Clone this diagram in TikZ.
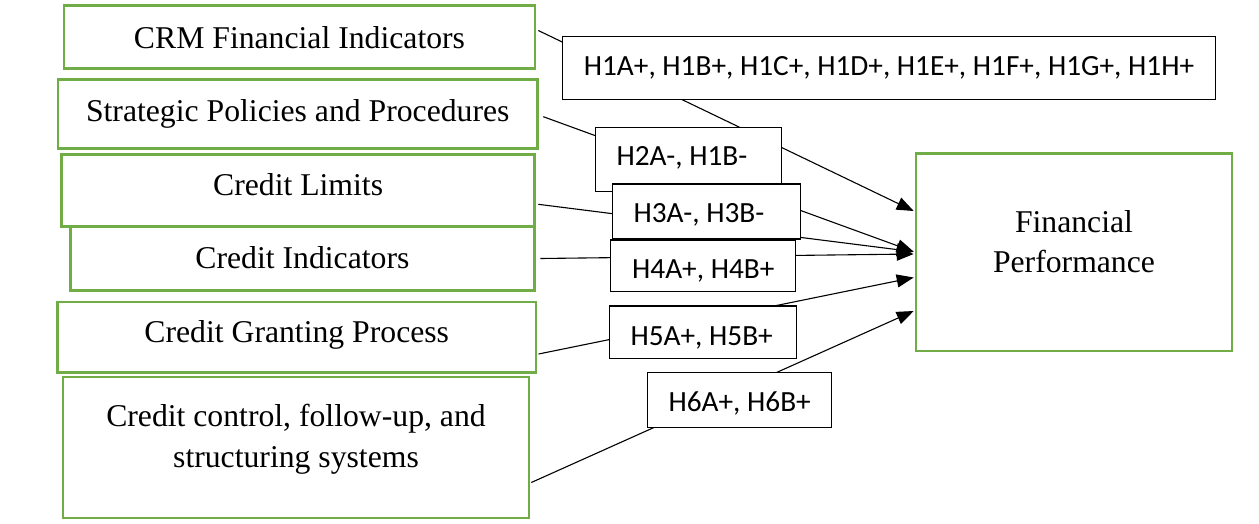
\documentclass[tikz,border=0pt]{standalone}
\usepackage{fontspec}
\setmainfont{Liberation Serif}
\newfontfamily\calfont{Carlito}
\usetikzlibrary{arrows.meta}
\definecolor{boxgreen}{HTML}{70AD47}
\newcommand\hypbox[2]{\makebox[#1][l]{#2}}
\begin{document}
\begin{tikzpicture}[x=1pt,y=-1pt,
  gbox/.style={draw=boxgreen, line width=2.6pt, fill=white, inner sep=0pt, anchor=base,
               font=\fontsize{31.7}{41.7}\selectfont},
  hbox/.style={draw=black, line width=1.1pt, fill=white, inner xsep=21.3pt, inner ysep=0pt,
               anchor=base west, font=\calfont\fontsize{29.3}{35}\selectfont},
  conn/.style={line width=1.1pt, -{Triangle[length=17pt,width=13pt]}}]
\useasboundingbox (0,0) rectangle (1259,523);

% left factor boxes
\node[gbox, minimum width=471pt, text height=42.5pt, text depth=20.3pt] (crm) at (299.5,48) {CRM Financial Indicators};
\node[gbox, minimum width=479.5pt, text height=41.7pt, text depth=27.7pt] (str) at (297.75,121) {Strategic Policies and Procedures};
\node[gbox, minimum width=472.8pt, text height=41.2pt, text depth=31pt] (lim) at (298.1,195.7) {Credit Limits};
\node[gbox, minimum width=464.2pt, text height=42pt, text depth=22pt] (ind) at (302.4,268.7) {Credit Indicators};
\node[gbox, minimum width=478.5pt, text height=40.7pt, text depth=29.8pt] (gra) at (296.75,342.7) {Credit Granting Process};
\node[gbox, minimum width=466pt, text height=49pt, text depth=92pt] (con) at (296,426)
  {\parbox[t]{440pt}{\fontsize{31.7}{41.7}\selectfont\centering Credit control, follow-up, and\\structuring systems}};

% outcome box
\node[gbox, minimum width=316pt, text height=79.4pt, text depth=118.3pt] (fp) at (1074,232.7)
  {\parbox[t]{280pt}{\fontsize{31.7}{40}\selectfont\centering Financial\\Performance}};

% connectors
\draw[conn] ([xshift=2pt,yshift=6.4pt]crm.east) -- ([xshift=-1pt,yshift=41.15pt]fp.west);
\draw[conn] ([xshift=4.5pt,yshift=-2.7pt]str.east) -- ([xshift=-1pt,yshift=0.45pt]fp.west);
\draw[conn] ([xshift=2.5pt,yshift=-13.7pt]lim.east) -- ([xshift=-1pt,yshift=0.45pt]fp.west);
\draw[conn] ([xshift=4.5pt,yshift=0.2pt]ind.east) -- ([xshift=-1pt,yshift=-1.85pt]fp.west);
\draw[conn] ([xshift=1.3pt,yshift=-16.75pt]gra.east) -- ([xshift=-1pt,yshift=-25.35pt]fp.west);
\draw[conn] ([xshift=1pt,yshift=-35pt]con.east) -- ([xshift=-1pt,yshift=-58.85pt]fp.west);

% hypothesis labels
\node[hbox, text height=38.3pt, text depth=24.3pt] (h1) at (562,75)
  {\hypbox{610.4pt}{H1A+, H1B+, H1C+, H1D+, H1E+, H1F+, H1G+, H1H+}};
\node[hbox, text height=37.7pt, text depth=26.5pt] (h2) at (594.7,165)
  {\hypbox{143.7pt}{H2A-, H1B-}};
\node[hbox, text height=38.3pt, text depth=16.7pt] (h3) at (611.7,222.3)
  {\hypbox{145.2pt}{H3A-, H3B-}};
\node[hbox, text height=38pt, text depth=13.7pt] (h4) at (610.3,278)
  {\hypbox{141.8pt}{H4A+, H4B+}};
\node[hbox, text height=39.7pt, text depth=12.6pt] (h5) at (608.7,345.7)
  {\hypbox{144.4pt}{H5A+, H5B+}};
\node[hbox, text height=38.7pt, text depth=16.7pt] (h6) at (646.7,411)
  {\hypbox{141.7pt}{H6A+, H6B+}};
\end{tikzpicture}
\end{document}
